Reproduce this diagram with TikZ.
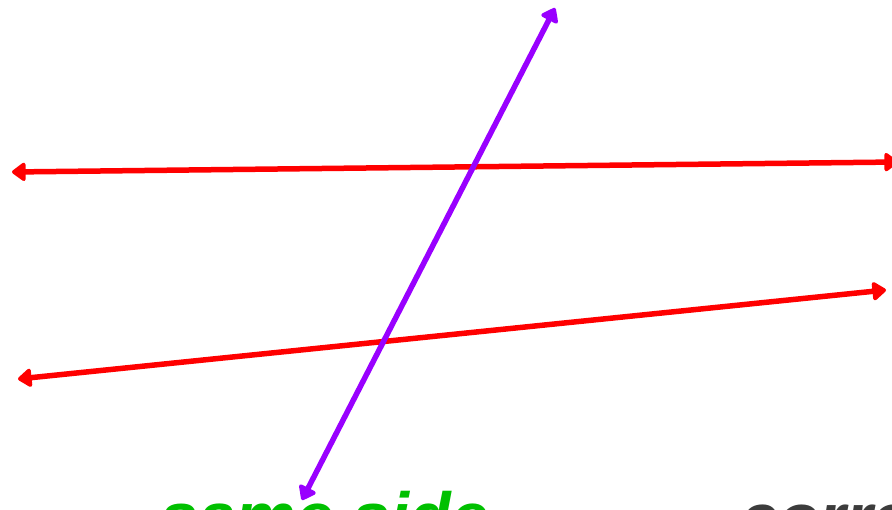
\documentclass[tikz,border=0pt]{standalone}
\usepackage{fontspec}
\setmainfont{Liberation Sans}
\usetikzlibrary{arrows.meta}
\definecolor{lred}{RGB}{255,0,0}
\definecolor{tpurple}{RGB}{153,0,255}
\definecolor{lgreen}{RGB}{0,192,0}
\definecolor{dgray}{RGB}{60,60,60}
\tikzset{
  tiphead/.tip={Triangle[round,length=15pt,width=21pt]},
  parline/.style={draw=lred, line width=5.5pt, tiphead-tiphead},
  transline/.style={draw=tpurple, line width=5.5pt, tiphead-tiphead},
  lbl/.style={inner sep=0pt, anchor=base west, font=\fontsize{68}{74}\selectfont\bfseries\itshape}
}
\begin{document}
\begin{tikzpicture}[x=1pt,y=1pt]
\useasboundingbox (0,0) rectangle (892,509);
\clip (0,0) rectangle (892,509);
\fill[white] (0,0) rectangle (892,509);
% parallel lines
\coordinate (pA1) at (12,337);
\coordinate (pA2) at (898,347);
\coordinate (pB1) at (18,130);
\coordinate (pB2) at (886,219);
% transversal
\coordinate (t1) at (555,501);
\coordinate (t2) at (302,9);
\draw[parline] (pA1) -- (pA2);
\draw[parline] (pB1) -- (pB2);
\draw[transline] (t2) -- (t1);
% labels
\node[lbl, text=lgreen] (same) at (160,-31) {same side};
\node[lbl, text=dgray] (corr) at (740,-32) {corresponding};
\end{tikzpicture}
\end{document}
